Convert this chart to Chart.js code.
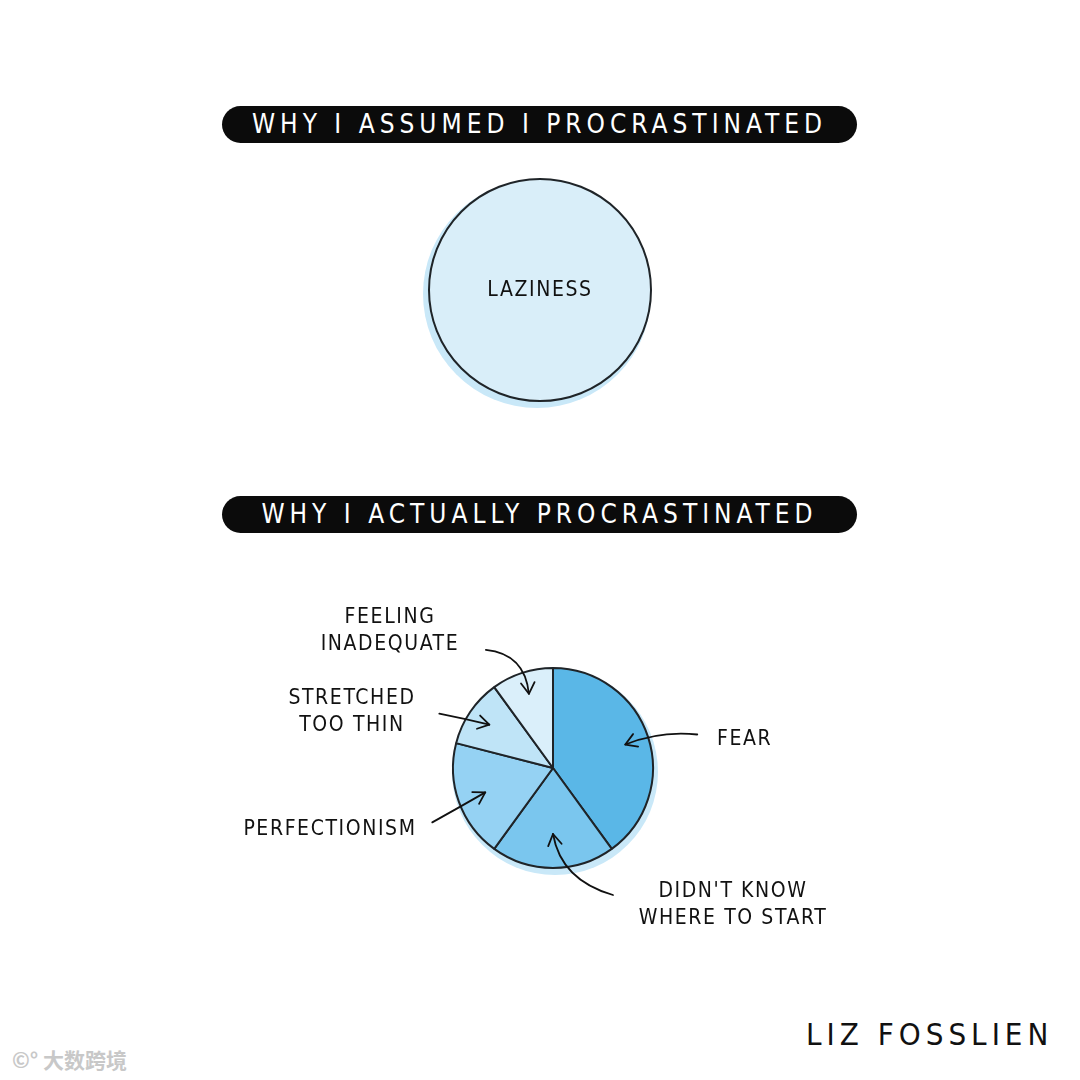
<!DOCTYPE html>
<html>
<head>
<meta charset="utf-8">
<script src="https://cdn.jsdelivr.net/npm/chart.js@4.4.1/dist/chart.umd.min.js"></script>
<style>
  html, body { margin: 0; padding: 0; background: #fff; }
  #page { position: relative; width: 1080px; height: 1080px; overflow: hidden; font-family: "DejaVu Sans Condensed", "DejaVu Sans", sans-serif; color: #111; }
  .pill { position: absolute; left: 222px; width: 635px; height: 37px; background: #0b0b0b; border-radius: 19px;
          color: #fff; font-size: 26px; letter-spacing: 5px; text-align: center; line-height: 37px; white-space: nowrap; }
  .lbl { position: absolute; font-size: 21px; letter-spacing: 1.6px; line-height: 27px; text-align: center; white-space: nowrap; }
  #topWrap { position: absolute; left: 400px; top: 160px; width: 280px; height: 260px; }
  #botWrap { position: absolute; left: 200px; top: 568px; width: 706px; height: 400px; }
  #sign { position: absolute; left: 806px; top: 1016px; font-size: 31px; letter-spacing: 5px; }
  #mark { position: absolute; left: 12px; top: 1044px; font-family: "Noto Sans CJK SC", sans-serif; font-size: 21px; color: #c8c8c8; font-weight: bold; }
</style>
</head>
<body>
<div id="page">
  <div class="pill" style="top:106px;">WHY I ASSUMED I PROCRASTINATED</div>
  <div id="topWrap"><canvas id="topChart"></canvas></div>
  <div class="lbl" id="lazyLbl" style="left:440px; top:276px; width:200px;">LAZINESS</div>

  <div class="pill" style="top:496px;">WHY I ACTUALLY PROCRASTINATED</div>
  <div id="botWrap"><canvas id="botChart"></canvas></div>

  <div class="lbl" style="left:290px; top:603px; width:200px;">FEELING<br>INADEQUATE</div>
  <div class="lbl" style="left:252px; top:684px; width:200px;">STRETCHED<br>TOO THIN</div>
  <div class="lbl" style="left:230px; top:815px; width:200px;">PERFECTIONISM</div>
  <div class="lbl" style="left:717px; top:725px;">FEAR</div>
  <div class="lbl" style="left:620px; top:877px; width:226px;">DIDN'T KNOW<br>WHERE TO START</div>

  <div id="sign">LIZ FOSSLIEN</div>
  <div id="mark">©° 大数跨境</div>
</div>

<script>
const assumedLabels = ['LAZINESS'];
const assumedValues = [100];

const actualLabels = ['FEAR', "DIDN'T KNOW WHERE TO START", 'PERFECTIONISM', 'STRETCHED TOO THIN', 'FEELING INADEQUATE'];
const actualValues = [40, 20, 19, 11, 10];
const actualColors = ['#5ab7e7', '#7ac6ee', '#95d2f3', '#bfe4f7', '#daeffa'];

// arrow styling per slice: tail offset from tip, curve control offset from tip
const arrowStyle = [
  { r: 0.76, tail: [72, -10], ctrl: [35, -14] },
  { r: 0.66, tail: [60, 61], ctrl: [8, 46] },
  { r: 0.72, tail: [-53, 30], ctrl: [-26, 15] },
  { r: 0.77, tail: [-50, -11], ctrl: [-25, -6] },
  { r: 0.78, tail: [-43, -44], ctrl: [-4, -40] }
];

function haloPlugin(dx, dy, outline) {
  return {
    id: 'halo',
    beforeDatasetsDraw(chart) {
      const arc = chart.getDatasetMeta(0).data[0];
      if (!arc) return;
      const ctx = chart.ctx;
      ctx.save();
      ctx.fillStyle = '#c9e8f8';
      ctx.beginPath();
      ctx.arc(arc.x + dx, arc.y + dy, arc.outerRadius + 3, 0, Math.PI * 2);
      ctx.fill();
      ctx.restore();
    },
    afterDatasetsDraw(chart) {
      if (!outline) return;
      const arc = chart.getDatasetMeta(0).data[0];
      const ctx = chart.ctx;
      ctx.save();
      ctx.strokeStyle = '#1f2428';
      ctx.lineWidth = 2;
      ctx.beginPath();
      ctx.arc(arc.x, arc.y, arc.outerRadius, 0, Math.PI * 2);
      ctx.stroke();
      ctx.restore();
    }
  };
}

function drawArrow(ctx, tip, tail, ctrl) {
  ctx.beginPath();
  ctx.moveTo(tail[0], tail[1]);
  ctx.quadraticCurveTo(ctrl[0], ctrl[1], tip[0], tip[1]);
  ctx.stroke();
  const ang = Math.atan2(tip[1] - ctrl[1], tip[0] - ctrl[0]);
  const len = 13, spread = 0.55;
  ctx.beginPath();
  ctx.moveTo(tip[0] - len * Math.cos(ang - spread), tip[1] - len * Math.sin(ang - spread));
  ctx.lineTo(tip[0], tip[1]);
  ctx.lineTo(tip[0] - len * Math.cos(ang + spread), tip[1] - len * Math.sin(ang + spread));
  ctx.stroke();
}

const arrowPlugin = {
  id: 'arrows',
  afterDatasetsDraw(chart) {
    const ctx = chart.ctx;
    ctx.save();
    ctx.strokeStyle = '#111';
    ctx.lineWidth = 1.8;
    ctx.lineCap = 'round';
    ctx.lineJoin = 'round';
    chart.getDatasetMeta(0).data.forEach((arc, i) => {
      const s = arrowStyle[i];
      const mid = (arc.startAngle + arc.endAngle) / 2;
      const tip = [arc.x + Math.cos(mid) * arc.outerRadius * s.r, arc.y + Math.sin(mid) * arc.outerRadius * s.r];
      const tail = [tip[0] + s.tail[0], tip[1] + s.tail[1]];
      const ctrl = [tip[0] + s.ctrl[0], tip[1] + s.ctrl[1]];
      drawArrow(ctx, tip, tail, ctrl);
    });
    ctx.restore();
  }
};

new Chart(document.getElementById('topChart'), {
  type: 'pie',
  data: {
    labels: assumedLabels,
    datasets: [{ data: assumedValues, backgroundColor: '#d9eef9', borderWidth: 0 }]
  },
  options: {
    responsive: true,
    maintainAspectRatio: false,
    animation: false,
    layout: { padding: { left: 29, right: 29, top: 19, bottom: 19 } },
    plugins: { legend: { display: false }, tooltip: { enabled: false } }
  },
  plugins: [haloPlugin(-3, 4, true)]
});

new Chart(document.getElementById('botChart'), {
  type: 'pie',
  data: {
    labels: actualLabels,
    datasets: [{ data: actualValues, backgroundColor: actualColors, borderColor: '#1f2428', borderWidth: 2 }]
  },
  options: {
    responsive: true,
    maintainAspectRatio: false,
    animation: false,
    layout: { padding: { left: 252, right: 252, top: 99, bottom: 99 } },
    plugins: { legend: { display: false }, tooltip: { enabled: false } }
  },
  plugins: [haloPlugin(2, 4, false), arrowPlugin]
});
</script>
</body>
</html>
